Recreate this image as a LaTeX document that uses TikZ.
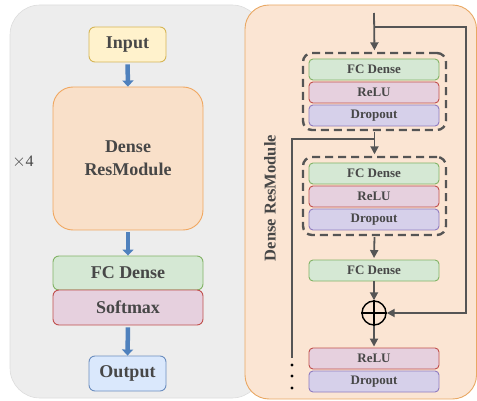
\documentclass[tikz,border=0pt]{standalone}
\usepackage{fontspec}
\setmainfont{Liberation Serif}
\usetikzlibrary{arrows.meta,fit}
\definecolor{txt}{HTML}{474747}
\definecolor{panelgray}{HTML}{EDEDED}
\definecolor{panelgrayb}{HTML}{DCDCDC}
\definecolor{panelor}{HTML}{FBE5D3}
\definecolor{panelorb}{HTML}{E9A864}
\definecolor{yelf}{HTML}{FFF2CC}
\definecolor{yeld}{HTML}{D6B656}
\definecolor{orf}{HTML}{F9E0C9}
\definecolor{ord}{HTML}{F0A760}
\definecolor{grf}{HTML}{D5E8D4}
\definecolor{grd}{HTML}{82B366}
\definecolor{rdf}{HTML}{E6D0DE}
\definecolor{rdd}{HTML}{C0504D}
\definecolor{puf}{HTML}{D6D0EA}
\definecolor{pud}{HTML}{8F7BC0}
\definecolor{blf}{HTML}{DAE8FC}
\definecolor{bld}{HTML}{6C8EBF}
\definecolor{arrblue}{HTML}{4F81BD}
\definecolor{lin}{HTML}{555555}
\tikzset{
  bigbox/.style={draw, line width=0.9pt, rounded corners=6pt, inner sep=0pt,
    text=txt, font=\bfseries\fontsize{18}{21}\selectfont, align=center},
  smallbox/.style={draw, line width=0.9pt, rounded corners=4pt, inner sep=0pt,
    minimum width=130pt, minimum height=21pt,
    text=txt, font=\bfseries\fontsize{13}{15}\selectfont},
  bluearr/.style={draw=arrblue, line width=4.5pt,
    -{Triangle[length=6pt,width=11pt]}, shorten <=2pt},
  arr/.style={draw=lin, line width=1.8pt, -{Triangle[length=8pt,width=8pt]}},
  plainline/.style={draw=lin, line width=1.8pt},
  dashbox/.style={draw=lin, line width=2.4pt, dash pattern=on 8pt off 5pt,
    rounded corners=9pt, inner sep=0pt},
}
\begin{document}
\begin{tikzpicture}[x=1pt,y=-1pt]
\useasboundingbox (0,0) rectangle (477,401);
% panels
\fill[panelgray, draw=panelgrayb, line width=0.6pt, rounded corners=30pt] (10,5) rectangle (262,398);
\fill[panelor, draw=panelorb, line width=0.9pt, rounded corners=24pt] (245,5) rectangle (476.5,399);

% left column
\node[bigbox, fill=yelf, draw=yeld, minimum width=77pt, minimum height=35pt] (in) at (127.5,44.5) {Input};
\node[bigbox, fill=orf, draw=ord, rounded corners=20pt, minimum width=150pt, minimum height=143pt] (drm) at (128,158.5) {Dense\\[2pt]ResModule};
\node[bigbox, fill=grf, draw=grd, minimum width=150pt, minimum height=34pt] (fc) at (128,273) {FC Dense};
\node[bigbox, fill=rdf, draw=rdd, minimum width=150pt, minimum height=35pt] (sm) at (128,307.5) {Softmax};
\node[bigbox, fill=blf, draw=bld, minimum width=77pt, minimum height=35pt] (out) at (127.5,373.5) {Output};
\node[text=txt, font=\fontsize{16}{18}\selectfont, inner sep=0pt] (times) at (23,162) {$\times$4};

\draw[bluearr] (in.south) -- (drm.north);
\draw[bluearr] (drm.south) -- (fc.north);
\draw[bluearr] (sm.south) -- (out.north);

% right panel
\node[text=txt, font=\bfseries\fontsize{16.5}{19}\selectfont, rotate=90, inner sep=0pt] (lbl) at (270,198) {Dense ResModule};

\node[smallbox, fill=grf, draw=grd] (fc1) at (374,69.5) {FC Dense};
\node[smallbox, fill=rdf, draw=rdd] (re1) at (374,92.5) {ReLU};
\node[smallbox, fill=puf, draw=pud] (dr1) at (374,115.5) {Dropout};
\node[dashbox, fit={(303,53) (446,130)}] (g1) {};

\node[smallbox, fill=grf, draw=grd] (fc2) at (374,173.5) {FC Dense};
\node[smallbox, fill=rdf, draw=rdd] (re2) at (374,196.5) {ReLU};
\node[smallbox, fill=puf, draw=pud] (dr2) at (374,219.5) {Dropout};
\node[dashbox, fit={(303,157) (446,235)}] (g2) {};

\node[smallbox, fill=grf, draw=grd] (fc3) at (374,270.5) {FC Dense};
\node[circle, draw=black, line width=1.4pt, minimum size=24pt, inner sep=0pt] (plus) at (374,313) {};
\draw[black, line width=1.4pt] (plus.north) -- (plus.south) (plus.west) -- (plus.east);

\node[smallbox, fill=rdf, draw=rdd] (re3) at (374,358.5) {ReLU};
\node[smallbox, fill=puf, draw=pud] (dr3) at (374,381.5) {Dropout};

% connectors
\coordinate (top) at (374,13);
\coordinate (sk1) at (374,27);
\coordinate (sk2) at (466,27);
\draw[arr, shorten >=1.5pt] (top) -- (g1.north);
\draw[arr] (sk1) -- (sk2) |- (plus.east);
\draw[arr, shorten >=1.5pt, shorten <=1pt] (g1.south) -- (g2.north);
\coordinate (j) at (374,139);
\coordinate (l1) at (292,139);
\coordinate (l2) at (292,358);
\draw[plainline] (j) -- (l1) -- (l2);
\fill[black] (292,365) circle (1.6pt) (292,376) circle (1.6pt) (292,388) circle (1.6pt);
\draw[arr, shorten >=1.5pt, shorten <=1pt] (g2.south) -- (fc3.north);
\draw[arr] (fc3.south) -- (plus.north);
\draw[arr, shorten >=1pt] (plus.south) -- (re3.north);
\end{tikzpicture}
\end{document}
